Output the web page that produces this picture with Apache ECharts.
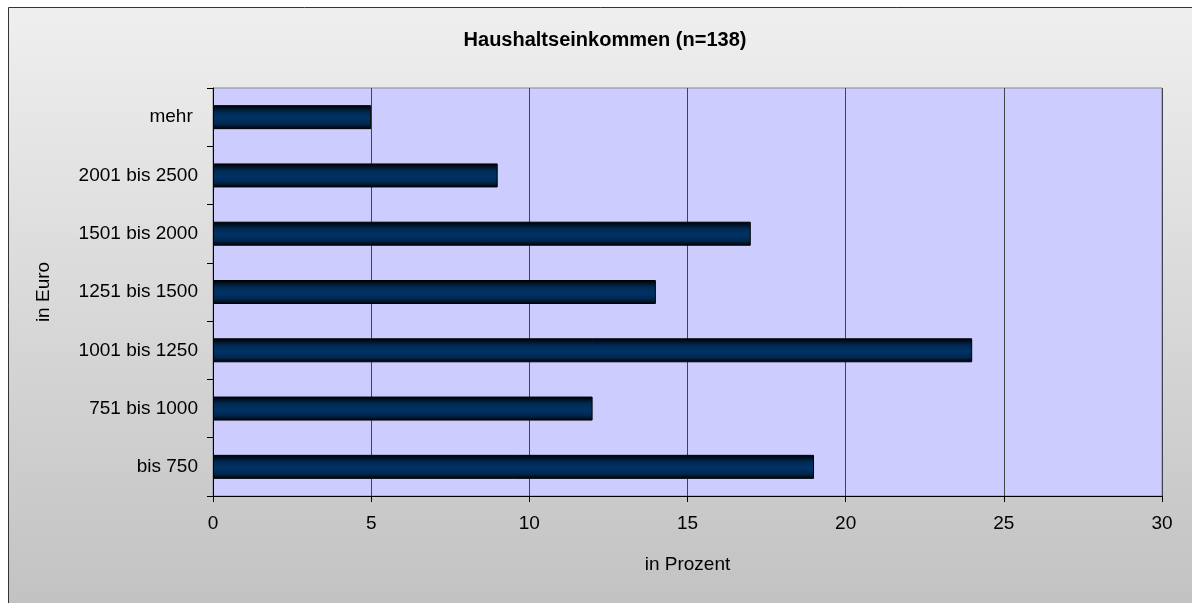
<!DOCTYPE html>
<html><head><meta charset="utf-8">
<script src="https://cdn.jsdelivr.net/npm/echarts@6/dist/echarts.min.js"></script>
<style>html,body{margin:0;padding:0;background:#fff}#c{width:1192px;height:603px}</style>
</head><body><div id="c"></div>
<script>
const categories = ['bis 750','751 bis 1000','1001 bis 1250','1251 bis 1500','1501 bis 2000','2001 bis 2500','mehr '];
const values = [19, 12, 24, 14, 17, 9, 5];
const xTicks = [0, 5, 10, 15, 20, 25, 30];

const chart = echarts.init(document.getElementById('c'), null, {renderer:'canvas'});
const font = 'Arial, "Liberation Sans", sans-serif';
chart.setOption({
  animation:false,
  backgroundColor:'transparent',
  graphic:[{
    type:'rect', z:-10, silent:true,
    shape:{x:8.5,y:7.5,width:1200,height:600},
    style:{fill:new echarts.graphic.LinearGradient(0,0,0,1,[{offset:0,color:'#efefef'},{offset:1,color:'#c2c2c2'}]),stroke:'#333',lineWidth:1}
  },{
    type:'rect', z:-5, silent:true,
    shape:{x:213,y:88,width:949,height:408},
    style:{fill:'#ccccff',stroke:'#888',lineWidth:1}
  }],
  title:{text:'Haushaltseinkommen (n=138)',left:600,top:25,textAlign:'center',
    textStyle:{fontFamily:font,fontSize:20,fontWeight:'bold',color:'#000'}},
  grid:{left:213,top:88,width:949,height:408,containLabel:false},
  xAxis:{type:'value',min:xTicks[0],max:xTicks[xTicks.length-1],interval:5,
    name:'in Prozent',nameLocation:'middle',nameGap:59,
    nameTextStyle:{fontFamily:font,fontSize:19,color:'#000'},
    axisLine:{show:true,lineStyle:{color:'#000',width:1}},
    axisTick:{show:true,length:6,inside:false,lineStyle:{color:'#000'}},
    axisLabel:{fontFamily:font,fontSize:19,color:'#000',margin:18},
    splitLine:{show:true,lineStyle:{color:'#444',width:1}}},
  yAxis:{type:'category',data:categories,
    name:'in Euro',nameLocation:'middle',nameGap:160,nameRotate:90,
    nameTextStyle:{fontFamily:font,fontSize:19,color:'#000'},
    axisLine:{show:true,lineStyle:{color:'#000',width:1}},
    axisTick:{show:true,length:6,inside:false,alignWithLabel:false,lineStyle:{color:'#000'}},
    axisLabel:{fontFamily:font,fontSize:19,color:'#000',margin:15},
    splitLine:{show:false}},
  series:[{type:'bar',data:values,barWidth:24,
    itemStyle:{borderColor:'#000',borderWidth:1,
      color:new echarts.graphic.LinearGradient(0,0,0,1,[
        {offset:0,color:'#000000'},{offset:0.3,color:'#002a55'},{offset:0.55,color:'#003366'},{offset:0.8,color:'#00264d'},{offset:1,color:'#000000'}])}}]
});
</script></body></html>
